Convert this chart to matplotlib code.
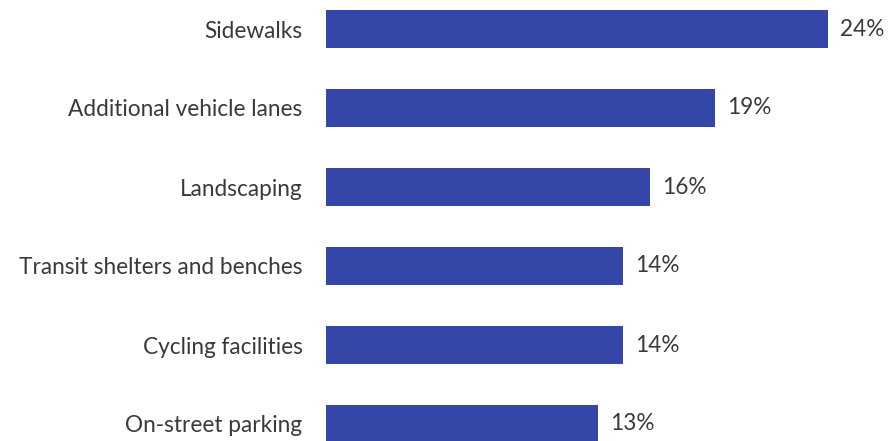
import matplotlib
matplotlib.use("Agg")
import matplotlib.pyplot as plt

categories = ["Sidewalks", "Additional vehicle lanes", "Landscaping",
              "Transit shelters and benches", "Cycling facilities", "On-street parking"]
values = [24.0, 18.6, 15.5, 14.2, 14.2, 13.0]
value_labels = ["24%", "19%", "16%", "14%", "14%", "13%"]

plt.rcParams['font.family'] = ['Lato', 'DejaVu Sans']
text_color = '#3a3a3a'
bar_color = '#3446a8'

W, H = 889, 441
fig = plt.figure(figsize=(W / 100, H / 100), dpi=100)
x0 = 326
ax = fig.add_axes([x0 / W, 0, 1 - x0 / W, 1])
ax.set_facecolor('white')

ypos = list(range(len(categories)))
ax.barh(ypos, values, height=0.48, color=bar_color)
scale = 502 / 24.0  # px per unit
ax.set_xlim(0, (W - x0) / scale)
ax.set_ylim((H - 29) / 79, -29 / 79)

for y, v, lab in zip(ypos, values, value_labels):
    ax.annotate(lab, (v, y), xytext=(8.5, 0), textcoords='offset points',
                va='center', ha='left', fontsize=16.3, color=text_color)

ax.set_yticks(ypos)
ax.set_yticklabels(categories, fontsize=16.3, color=text_color)
ax.tick_params(axis='y', length=0, pad=17)
ax.set_xticks([])
for s in ax.spines.values():
    s.set_visible(False)

fig.savefig("out.png", dpi=100, facecolor='white')
